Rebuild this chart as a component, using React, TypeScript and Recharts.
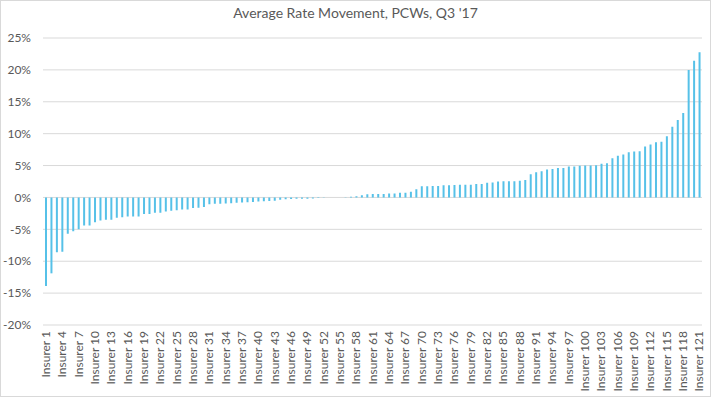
import { Bar, BarChart, CartesianGrid, XAxis, YAxis } from 'recharts';

const insurers: string[] = Array.from({ length: 121 }, (_, i) => `Insurer ${i + 1}`);

// rate movement in %, sorted low → high
const rateMovement: number[] = [
  -13.9, -11.9, -8.6, -8.5, -5.7, -5.3, -5.0, -4.4, -4.4, -3.9,
  -3.6, -3.5, -3.5, -3.2, -3.1, -3.0, -3.0, -3.0, -2.6, -2.6,
  -2.4, -2.4, -2.2, -2.1, -2.0, -1.9, -1.9, -1.65, -1.6, -1.5,
  -1.05, -1.0, -1.0, -0.95, -0.9, -0.85, -0.8, -0.75, -0.7, -0.65,
  -0.6, -0.55, -0.5, -0.35, -0.3, -0.25, -0.2, -0.2, -0.2, -0.15,
  -0.1, -0.05, 0, 0, 0, 0.02, 0.1, 0.2, 0.35, 0.5,
  0.55, 0.55, 0.55, 0.6, 0.6, 0.75, 0.75, 0.9, 1.3, 1.75,
  1.75, 1.8, 1.8, 1.9, 1.9, 1.95, 2.0, 2.0, 2.0, 2.1,
  2.1, 2.3, 2.35, 2.5, 2.55, 2.55, 2.55, 2.6, 2.75, 3.65,
  3.95, 4.1, 4.4, 4.45, 4.6, 4.6, 4.85, 4.85, 4.95, 5.0,
  5.0, 5.05, 5.3, 5.35, 6.15, 6.55, 6.75, 7.1, 7.2, 7.25,
  8.0, 8.3, 8.65, 8.75, 9.6, 11.1, 12.15, 13.25, 20.0, 21.45,
  22.75,
];

const yTicks: number[] = [-20, -15, -10, -5, 0, 5, 10, 15, 20, 25];

const data = insurers.map((name, i) => ({ name, value: rateMovement[i] }));

const FONT = 'Lato, "Open Sans", sans-serif';
const TEXT = '#595959';

function InsurerTick({ x, y, payload }: any) {
  return (
    <text
      x={x}
      y={y}
      dy="0.35em"
      textAnchor="end"
      transform={`rotate(-90, ${x}, ${y})`}
      fill={TEXT}
      fontSize={12}
      fontFamily={FONT}
    >
      {payload.value}
    </text>
  );
}

export default function App() {
  return (
    <div
      style={{
        position: 'absolute',
        left: 0,
        top: 0,
        width: 711,
        height: 397,
        boxSizing: 'border-box',
        border: '1px solid #d9d9d9',
        background: '#fff',
        fontFamily: FONT,
      }}
    >
      <div
        style={{
          position: 'absolute',
          top: 3,
          left: 0,
          width: '100%',
          textAlign: 'center',
          fontSize: 14,
          color: TEXT,
        }}
      >
        Average Rate Movement, PCWs, Q3 '17
      </div>
      <div style={{ position: 'absolute', left: -1, top: -1 }}>
        <BarChart
          width={711}
          height={397}
          data={data}
          margin={{ top: 38, right: 9, left: 0, bottom: 0 }}
          barCategoryGap={0}
        >
          <CartesianGrid stroke="#d9d9d9" vertical={false} />
          <XAxis
            dataKey="name"
            interval={2}
            height={72}
            tick={InsurerTick}
            tickLine={false}
            axisLine={false}
            tickSize={0}
            tickMargin={6}
          />
          <YAxis
            width={43}
            domain={[-20, 25]}
            ticks={yTicks}
            tickFormatter={(v: number) => `${v}%`}
            tick={{ fill: TEXT, fontSize: 12, fontFamily: FONT }}
            tickLine={false}
            axisLine={false}
            tickSize={6}
            tickMargin={6}
            allowDataOverflow
          />
          <Bar dataKey="value" fill="#56C1E8" barSize={2} isAnimationActive={false} />
        </BarChart>
      </div>
    </div>
  );
}
